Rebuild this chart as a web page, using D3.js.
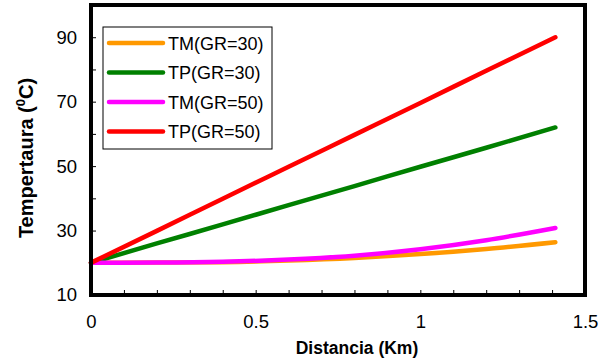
<!DOCTYPE html>
<html>
<head>
<meta charset="utf-8">
<script src="https://cdn.jsdelivr.net/npm/d3@7"></script>
<style>
  body { margin: 0; background: #fff; }
  text { font-family: Arial, "Liberation Sans", sans-serif; }
</style>
</head>
<body>
<svg id="chart" width="609" height="358"></svg>
<script>
// distance (km) and temperature (C)
const distancia = [0, 0.2, 0.4, 0.6, 0.8, 1.0, 1.2, 1.41];
const tmGr30 = [20, 20.05, 20.2, 20.7, 21.5, 22.7, 24.3, 26.4];
const tpGr30 = [20, 26, 31.9, 37.9, 43.8, 49.8, 55.7, 62];
const tmGr50 = [20, 20.05, 20.3, 21.0, 22.2, 24.2, 27.0, 30.8];
const tpGr50 = [20, 29.9, 39.9, 49.8, 59.7, 69.6, 79.6, 90];

const seriesNames = ['TM(GR=30)', 'TP(GR=30)', 'TM(GR=50)', 'TP(GR=50)'];
const seriesValues = [tmGr30, tpGr30, tmGr50, tpGr50];
const colors = ['#ff9900', '#008000', '#ff00ff', '#ff0000'];

const xTickLabels = [0, 0.5, 1, 1.5];
const yTickLabels = [10, 30, 50, 70, 90];

const margin = {top: 5, right: 24, bottom: 63, left: 91};
const width = 609, height = 358;

const svg = d3.select('#chart');

const x = d3.scaleLinear()
  .domain([0, 1.5])
  .range([margin.left, width - margin.right]);

const y = d3.scaleLinear()
  .domain([10, 100])
  .range([height - margin.bottom, margin.top]);

// minor ticks inside the frame
svg.append('g')
  .attr('transform', `translate(0,${height - margin.bottom})`)
  .call(d3.axisTop(x).tickValues(d3.range(0.1, 1.5, 0.1)).tickSize(5).tickFormat(''))
  .call(g => g.select('.domain').remove())
  .call(g => g.selectAll('line').attr('stroke', '#000'));

svg.append('g')
  .attr('transform', `translate(${margin.left},0)`)
  .call(d3.axisRight(y).tickValues(d3.range(20, 100, 10)).tickSize(5).tickFormat(''))
  .call(g => g.select('.domain').remove())
  .call(g => g.selectAll('line').attr('stroke', '#000'));

// tick labels
svg.append('g')
  .attr('transform', `translate(0,${height - margin.bottom})`)
  .call(d3.axisBottom(x).tickValues(xTickLabels).tickSize(0).tickPadding(20).tickFormat(d3.format('')))
  .call(g => g.select('.domain').remove())
  .call(g => g.selectAll('text').attr('font-size', 18.5).attr('fill', '#000')
    .style('font-family', 'Arial, "Liberation Sans", sans-serif'));

svg.append('g')
  .attr('transform', `translate(${margin.left},0)`)
  .call(d3.axisLeft(y).tickValues(yTickLabels).tickSize(0).tickPadding(14))
  .call(g => g.select('.domain').remove())
  .call(g => g.selectAll('text').attr('font-size', 18.5).attr('fill', '#000')
    .style('font-family', 'Arial, "Liberation Sans", sans-serif'));

// lines
const line = d3.line()
  .x((d, i) => x(distancia[i]))
  .y(d => y(d))
  .curve(d3.curveMonotoneX);

svg.append('g')
  .selectAll('path')
  .data(seriesValues)
  .join('path')
  .attr('d', line)
  .attr('fill', 'none')
  .attr('stroke', (d, i) => colors[i])
  .attr('stroke-width', 4.5)
  .attr('stroke-linecap', 'round');

// frame
svg.append('rect')
  .attr('x', margin.left)
  .attr('y', margin.top)
  .attr('width', width - margin.left - margin.right)
  .attr('height', height - margin.top - margin.bottom)
  .attr('fill', 'none')
  .attr('stroke', '#000')
  .attr('stroke-width', 4);

// legend
const legend = svg.append('g').attr('transform', 'translate(103,27)');
legend.append('rect')
  .attr('width', 169)
  .attr('height', 122)
  .attr('fill', '#fff')
  .attr('stroke', '#000')
  .attr('stroke-width', 1);

const item = legend.selectAll('g.item')
  .data(seriesNames)
  .join('g')
  .attr('class', 'item')
  .attr('transform', (d, i) => `translate(0,${16 + i * 29.5})`);

item.append('line')
  .attr('x1', 6).attr('x2', 60)
  .attr('stroke', (d, i) => colors[i])
  .attr('stroke-width', 4.5)
  .attr('stroke-linecap', 'round');

item.append('text')
  .attr('x', 65)
  .attr('y', 6.5)
  .attr('font-size', 18)
  .text(d => d);

// axis titles
svg.append('text')
  .attr('x', 357)
  .attr('y', 354)
  .attr('text-anchor', 'middle')
  .attr('font-size', 17.5)
  .attr('font-weight', 'bold')
  .text('Distancia (Km)');

const yTitle = svg.append('text')
  .attr('transform', 'translate(33,158) rotate(-90)')
  .attr('text-anchor', 'middle')
  .attr('font-size', 20)
  .attr('font-weight', 'bold');
yTitle.append('tspan').text('Tempertaura (');
yTitle.append('tspan').attr('font-size', 13).attr('dy', -8).text('0');
yTitle.append('tspan').attr('dy', 8).text('C)');
</script>
</body>
</html>
